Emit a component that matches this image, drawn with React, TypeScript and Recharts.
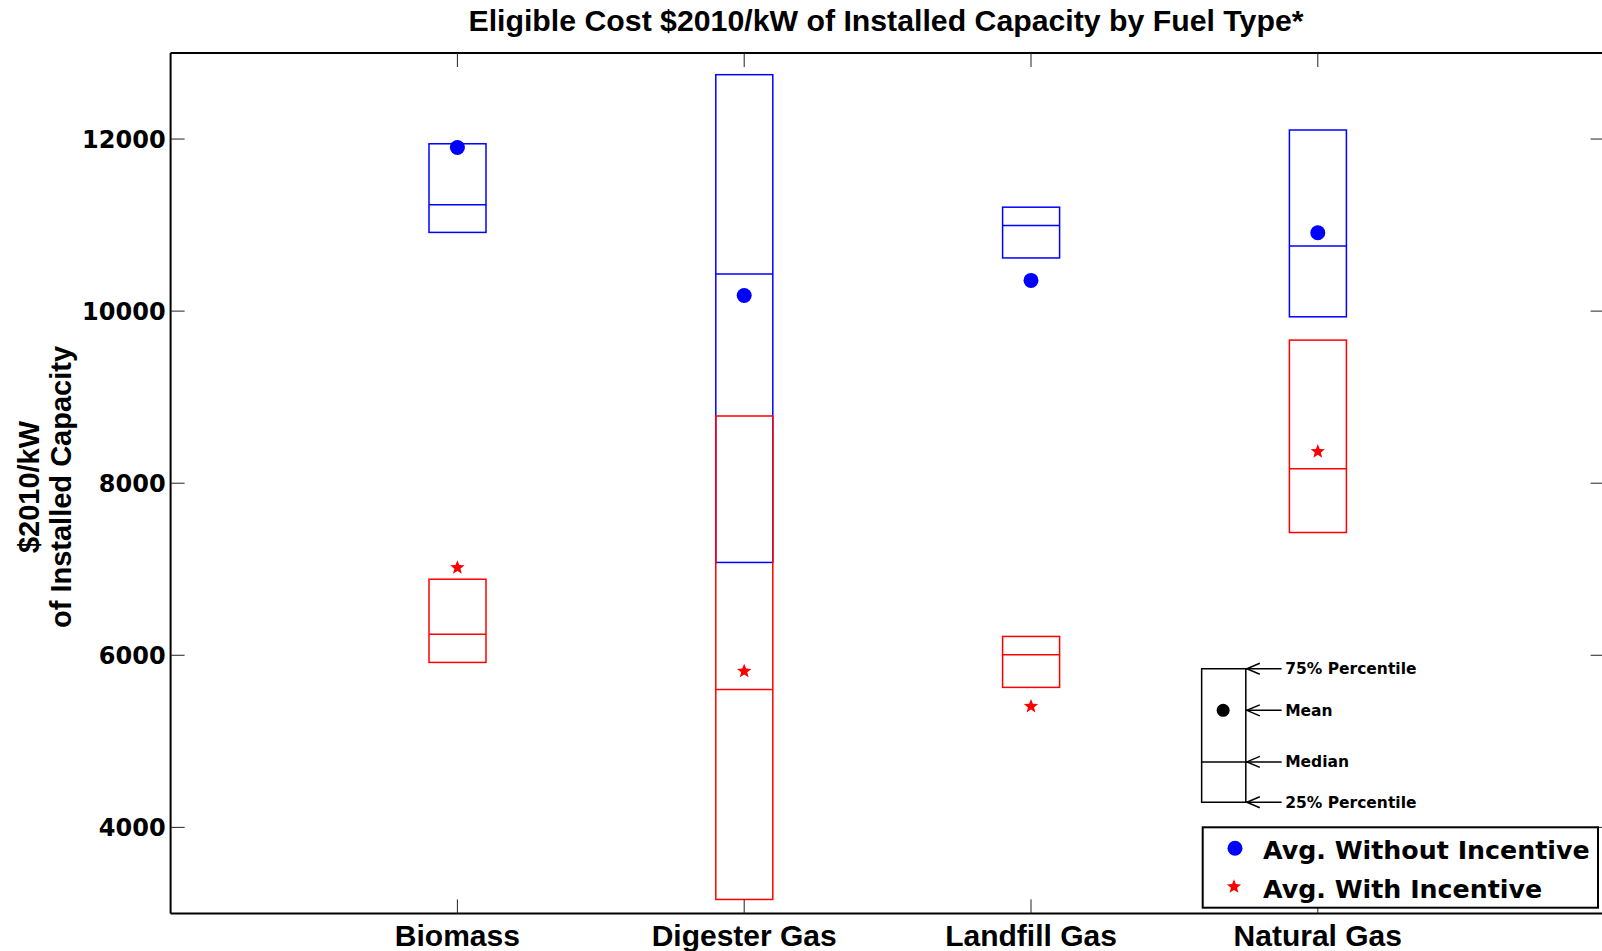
import React from "react";
import {
  ComposedChart,
  Bar,
  Scatter,
  XAxis,
  YAxis,
  ReferenceArea,
  ReferenceLine,
  ReferenceDot,
} from "recharts";

document.body.style.margin = "0";

const categories = ["Biomass", "Digester Gas", "Landfill Gas", "Natural Gas"];
const positions = [1, 2, 3, 4];

// without incentive (blue)
const withoutQ1 = [10915, 7079, 10618, 9934];
const withoutMedian = [11235, 10432, 10995, 10756];
const withoutQ3 = [11945, 12748, 11208, 12105];
const withoutMean = [11901, 10182, 10357, 10911];

// with incentive (red)
const withQ1 = [5917, 3162, 5627, 7427];
const withMedian = [6245, 5601, 6005, 8167];
const withQ3 = [6884, 8781, 6219, 9663];
const withMean = [7018, 5815, 5406, 8367];

const yTicks = [4000, 6000, 8000, 10000, 12000];

// explanation key drawn inside the axes
const keyLabels = ["75% Percentile", "Mean", "Median", "25% Percentile"];
const keyLevels = [5844, 5360, 4761, 4292];
const keyLeft = 3.595;
const keyRight = 3.749;
const keyMid = 3.67;
const keyArrowEnd = 3.874;

const boxData = positions.map((x, i) => ({
  x,
  blue: [withoutQ1[i], withoutQ3[i]],
  blueMed: withoutMedian[i],
  red: [withQ1[i], withQ3[i]],
  redMed: withMedian[i],
}));
const blueMeans = positions.map((x, i) => ({ x, y: withoutMean[i] }));
const redMeans = positions.map((x, i) => ({ x, y: withMean[i] }));

const BLUE = "#0000ff";
const RED = "#ff0000";
const BOLD = "'Liberation Sans', Arial, sans-serif";
const WIDE = "'DejaVu Sans', sans-serif";

const makeBox = (color: string, rangeKey: string, medKey: string) => (props: any) => {
  const { x, y, width, height, payload } = props;
  const [lo, hi] = payload[rangeKey];
  const top = Math.min(y, y + height);
  const h = Math.abs(height);
  const my = top + ((hi - payload[medKey]) / (hi - lo)) * h;
  return (
    <g>
      <rect x={x} y={top} width={width} height={h} fill="none" stroke={color} strokeWidth={1.5} />
      <line x1={x} x2={x + width} y1={my} y2={my} stroke={color} strokeWidth={1.5} />
    </g>
  );
};

function starPath(cx: number, cy: number, ro: number, ri: number) {
  let d = "";
  for (let k = 0; k < 10; k++) {
    const r = k % 2 === 0 ? ro : ri;
    const a = -Math.PI / 2 + (k * Math.PI) / 5;
    d += (k === 0 ? "M" : "L") + (cx + r * Math.cos(a)).toFixed(2) + "," + (cy + r * Math.sin(a)).toFixed(2);
  }
  return d + "Z";
}

const BlueDot = (props: any) => <circle cx={props.cx} cy={props.cy} r={7.5} fill={BLUE} />;
const RedStar = (props: any) => <path d={starPath(props.cx, props.cy, 7.5, 3.2)} fill={RED} />;

// ticks point inward, matlab style
const LeftTick = ({ x, y, payload }: any) => (
  <g>
    <line x1={x} x2={x + 14} y1={y} y2={y} stroke="#222" strokeWidth={1} />
    <text x={x - 5} y={y} dy="0.36em" textAnchor="end" fontFamily={WIDE} fontWeight="bold" fontSize={24} fill="#000">
      {payload.value}
    </text>
  </g>
);
const RightTick = ({ x, y }: any) => (
  <line x1={x - 14} x2={x} y1={y} y2={y} stroke="#222" strokeWidth={1} />
);
const BottomTick = ({ x, y, payload }: any) => (
  <g>
    <line x1={x} x2={x} y1={y - 14} y2={y} stroke="#222" strokeWidth={1} />
    <text x={x} y={y + 32.5} textAnchor="middle" fontFamily={BOLD} fontWeight="bold" fontSize={30} fill="#000">
      {categories[positions.indexOf(payload.value)]}
    </text>
  </g>
);
const TopTick = ({ x, y }: any) => (
  <line x1={x} x2={x} y1={y} y2={y + 14} stroke="#222" strokeWidth={1} />
);

const makeArrow = (label: string) => (props: any) => {
  const { x1, y1, x2 } = props;
  return (
    <g>
      <line x1={x1} x2={x2} y1={y1} y2={y1} stroke="#000" strokeWidth={1.5} />
      <polyline
        points={`${x1 + 14},${y1 - 5.5} ${x1 + 1},${y1} ${x1 + 14},${y1 + 5.5}`}
        fill="none"
        stroke="#000"
        strokeWidth={1.5}
      />
      <text x={x2 + 3.5} y={y1} dy="0.36em" fontFamily={WIDE} fontWeight="bold" fontSize={15.5} fill="#000">
        {label}
      </text>
    </g>
  );
};

const axisLine = { stroke: "#000", strokeWidth: 2 };

export default function App() {
  return (
    <div style={{ position: "relative", width: 1602, height: 951, overflow: "hidden", background: "#fff" }}>
      <ComposedChart
        width={1606}
        height={951}
        data={boxData}
        margin={{ top: 52, right: 0.4, left: 169.6, bottom: 36.6 }}
      >
        <XAxis
          dataKey="x"
          type="number"
          domain={[0, 5]}
          ticks={positions}
          height={1}
          tickSize={0}
          tickMargin={0}
          tickLine={false}
          axisLine={axisLine}
          tick={<BottomTick />}
          interval={0}
        />
        <XAxis xAxisId="red" dataKey="x" type="number" domain={[0, 5]} hide />
        <XAxis
          xAxisId="top"
          orientation="top"
          dataKey="x"
          type="number"
          domain={[0, 5]}
          ticks={positions}
          height={1}
          tickSize={0}
          tickMargin={0}
          tickLine={false}
          axisLine={axisLine}
          tick={<TopTick />}
          interval={0}
        />
        <YAxis
          type="number"
          domain={[3000, 13000]}
          ticks={yTicks}
          allowDataOverflow
          width={1}
          tickSize={0}
          tickMargin={0}
          tickLine={false}
          axisLine={axisLine}
          tick={<LeftTick />}
          interval={0}
        />
        <YAxis
          yAxisId="right"
          orientation="right"
          type="number"
          domain={[3000, 13000]}
          ticks={yTicks}
          allowDataOverflow
          width={1}
          tickSize={0}
          tickMargin={0}
          tickLine={false}
          axisLine={axisLine}
          tick={<RightTick />}
          interval={0}
        />
        <Bar dataKey="blue" barSize={57} shape={makeBox(BLUE, "blue", "blueMed")} isAnimationActive={false} />
        <Bar dataKey="red" xAxisId="red" barSize={57} shape={makeBox(RED, "red", "redMed")} isAnimationActive={false} />
        <Scatter data={blueMeans} dataKey="y" shape={<BlueDot />} isAnimationActive={false} />
        <Scatter data={redMeans} dataKey="y" shape={<RedStar />} isAnimationActive={false} />

        <ReferenceArea
          x1={keyLeft}
          x2={keyRight}
          y1={keyLevels[3]}
          y2={keyLevels[0]}
          fill="none"
          fillOpacity={0}
          stroke="#000"
          strokeWidth={1.5}
        />
        <ReferenceLine
          segment={[
            { x: keyLeft, y: keyLevels[2] },
            { x: keyRight, y: keyLevels[2] },
          ]}
          stroke="#000"
          strokeWidth={1.5}
        />
        <ReferenceDot x={keyMid} y={keyLevels[1]} r={6.5} fill="#000" stroke="none" />
        {keyLabels.map((label, i) => (
          <ReferenceLine
            key={label}
            segment={[
              { x: keyRight, y: keyLevels[i] },
              { x: keyArrowEnd, y: keyLevels[i] },
            ]}
            shape={makeArrow(label)}
          />
        ))}
      </ComposedChart>

      <svg
        width={1602}
        height={951}
        style={{ position: "absolute", left: 0, top: 0, pointerEvents: "none" }}
      >
        <text
          x={886}
          y={31}
          textAnchor="middle"
          fontFamily={BOLD}
          fontWeight="bold"
          fontSize={29}
          textLength={835}
          lengthAdjust="spacingAndGlyphs"
        >
          Eligible Cost $2010/kW of Installed Capacity by Fuel Type*
        </text>
        <text
          transform="translate(39,487) rotate(-90)"
          textAnchor="middle"
          fontFamily={BOLD}
          fontWeight="bold"
          fontSize={29}
        >
          $2010/kW
        </text>
        <text
          transform="translate(71,487) rotate(-90)"
          textAnchor="middle"
          fontFamily={BOLD}
          fontWeight="bold"
          fontSize={29}
        >
          of Installed Capacity
        </text>

        <rect x={1202.7} y={827.3} width={395.3} height={80.4} fill="#fff" stroke="#000" strokeWidth={2} />
        <circle cx={1235} cy={848.3} r={7.5} fill={BLUE} />
        <text x={1263} y={858.5} fontFamily={WIDE} fontWeight="bold" fontSize={25.3}>
          Avg. Without Incentive
        </text>
        <path d={starPath(1234, 886.7, 7.5, 3.2)} fill={RED} />
        <text x={1263} y={897.5} fontFamily={WIDE} fontWeight="bold" fontSize={25.3}>
          Avg. With Incentive
        </text>
      </svg>
    </div>
  );
}
